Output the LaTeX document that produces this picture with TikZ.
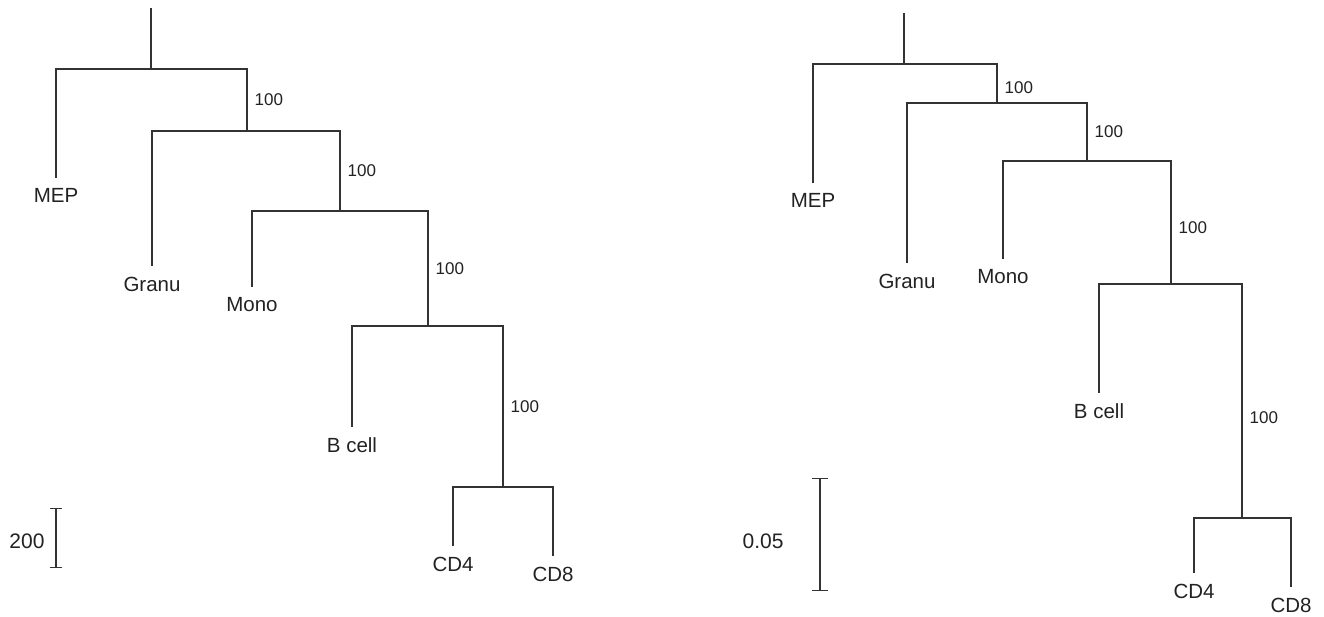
\documentclass[tikz,border=0pt]{standalone}
\usepackage{fontspec}
\setmainfont{Liberation Sans}
\usetikzlibrary{arrows.meta}
\definecolor{treeline}{HTML}{333333}
\definecolor{treetext}{HTML}{222222}
\tikzset{
  branch/.style={draw=treeline, line width=1.2pt},
  leaf/.style={anchor=north, inner xsep=0pt, inner ysep=10.5pt, text=treetext, font=\fontsize{20.5}{24}\selectfont},
  boot/.style={anchor=west, inner xsep=7pt, inner ysep=0pt, text=treetext, font=\fontsize{17}{20}\selectfont},
  scalelab/.style={text=treetext, font=\fontsize{21}{25}\selectfont},
}

\begin{document}
\begin{tikzpicture}[x=1pt, y=-1pt]
    \useasboundingbox (0,0) rectangle (1324,617);

    % left tree
    \node[leaf] (MEPa) at (56,178) {MEP};
    \node[leaf] (Granua) at (152,266) {Granu};
    \node[leaf] (Monoa) at (252,287) {Mono};
    \node[leaf] (Bcella) at (352,427) {B cell};
    \node[leaf] (CDfoura) at (453,546) {CD4};
    \node[leaf] (CDeighta) at (553,556) {CD8};
    \coordinate (topa) at (151,8);
    \coordinate (j0a) at (151,69);
    \coordinate (j1a) at (247,131);
    \coordinate (j2a) at (340,211);
    \coordinate (j3a) at (428,326);
    \coordinate (j4a) at (503,487);
    \draw[branch] (topa) -- (j0a);
    \draw[branch] (MEPa) |- (j0a) -| node[boot, pos=0.75] {100} (j1a);
    \draw[branch] (Granua) |- (j1a) -| node[boot, pos=0.75] {100} (j2a);
    \draw[branch] (Monoa) |- (j2a) -| node[boot, pos=0.75] {100} (j3a);
    \draw[branch] (Bcella) |- (j3a) -| node[boot, pos=0.75] {100} (j4a);
    \draw[branch] (CDfoura) |- (j4a) -| (CDeighta);

    % left scale
    \coordinate (sbtopa) at (56,508);
    \coordinate (sbbota) at (56,568);
    \draw[branch, {Bar[width=12pt]}-{Bar[width=12pt]}] (sbtopa) -- (sbbota);
    \node[scalelab] (sclaba) at (27,541) {200};

    % right tree
    \node[leaf] (MEPb) at (813,183) {MEP};
    \node[leaf] (Granub) at (907,263) {Granu};
    \node[leaf] (Monob) at (1003,259) {Mono};
    \node[leaf] (Bcellb) at (1099,393) {B cell};
    \node[leaf] (CDfourb) at (1194,573) {CD4};
    \node[leaf] (CDeightb) at (1291,587) {CD8};
    \coordinate (topb) at (904,13);
    \coordinate (j0b) at (904,64);
    \coordinate (j1b) at (997,103);
    \coordinate (j2b) at (1087,161);
    \coordinate (j3b) at (1171,284);
    \coordinate (j4b) at (1242,518);
    \draw[branch] (topb) -- (j0b);
    \draw[branch] (MEPb) |- (j0b) -| node[boot, pos=0.8] {100} (j1b);
    \draw[branch] (Granub) |- (j1b) -| node[boot, pos=0.75] {100} (j2b);
    \draw[branch] (Monob) |- (j2b) -| node[boot, pos=0.77] {100} (j3b);
    \draw[branch] (Bcellb) |- (j3b) -| node[boot, pos=0.785] {100} (j4b);
    \draw[branch] (CDfourb) |- (j4b) -| (CDeightb);

    % right scale
    \coordinate (sbtopb) at (820,478);
    \coordinate (sbbotb) at (820,591);
    \draw[branch, {Bar[width=16pt]}-{Bar[width=16pt]}] (sbtopb) -- (sbbotb);
    \node[scalelab] (sclabb) at (763,541) {0.05};
\end{tikzpicture}
\end{document}
